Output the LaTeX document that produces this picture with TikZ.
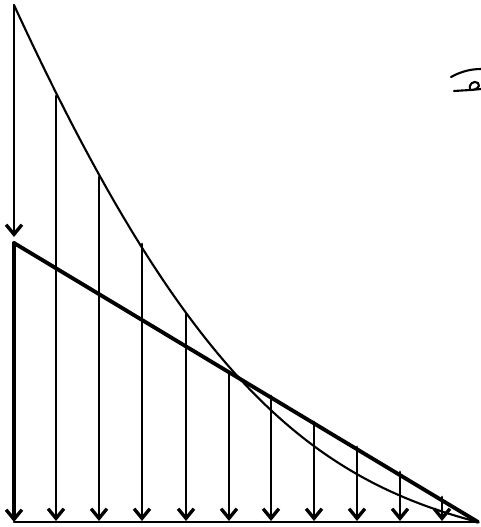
\documentclass[tikz,border=0pt]{standalone}
\usepackage{tikz}
\usetikzlibrary{arrows.meta, calc}

\tikzset{
    load/.style={line width=1.6pt, -{Straight Barb[length=5.5pt, width=9pt, line width=1.9pt]}},
    curveline/.style={line width=1.2pt},
    straightline/.style={line width=2.2pt}
}

\begin{document}
\begin{tikzpicture}[x=0.02cm, y=-0.02cm, line cap=round, line join=round]
    \useasboundingbox (0,0) rectangle (480,527);
    \coordinate (T) at (14,5);
    \coordinate (M) at (14,243);
    \coordinate (O) at (14,522);
    \coordinate (E) at (478,522);
    % base and left edge
    \draw[line width=1.4pt] (O)--(E);
    \draw[load, line width=1.4pt] (T)--(14,237);
    \draw[load, line width=2.3pt] (M)--(O);
    % the two laws
    \draw[curveline] (T) .. controls (184,374) and (308,478) .. (E);
    \draw[straightline] (M)--(E);
    % arrows under them
    \foreach \x/\y in {56/96, 99/177, 142/244, 186/314, 229/372,
                       271/396, 314/422, 357/447, 400/472, 442/497}
        \draw[load] (\x,\y)--(\x,521);
    % mark at top right
    \draw[line width=1.2pt] (451,77) .. controls (460,72) and (470,69) .. (481,69);
    \draw[line width=1.2pt] (454,91) -- (470,90)
        .. controls (468,84) and (474,80) .. (478,83)
        .. controls (481,87) and (476,90) .. (471,90) -- (481,89);
\end{tikzpicture}
\end{document}
